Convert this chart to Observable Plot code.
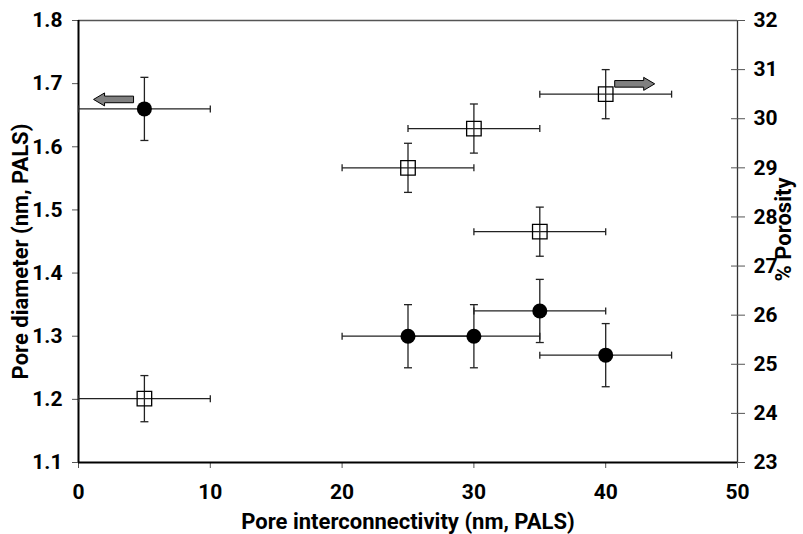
<!DOCTYPE html>
<html>
<head>
<meta charset="utf-8">
<script src="https://cdn.jsdelivr.net/npm/d3@7"></script>
<script src="https://cdn.jsdelivr.net/npm/@observablehq/plot@0.6"></script>
<style>
  html, body { margin: 0; padding: 0; background: #fff; }
  #chart svg text { font-weight: 700 !important; font-family: Roboto, "Liberation Sans", Arial, sans-serif !important; }
</style>
</head>
<body>
<div id="chart"></div>
<script>
// ---- data ----
const xTicks = [0, 10, 20, 30, 40, 50];
const leftTicks = [1.1, 1.2, 1.3, 1.4, 1.5, 1.6, 1.7, 1.8];
const rightTicks = [23, 24, 25, 26, 27, 28, 29, 30, 31, 32];

// filled circles: pore diameter (left axis)
const circleX = [5, 25, 30, 35, 40];
const circleXErr = [5, 5, 5, 5, 5];
const circleDiam = [1.66, 1.30, 1.30, 1.34, 1.27];
const circleDiamErr = [0.05, 0.05, 0.05, 0.05, 0.05];

// open squares: % porosity (right axis)
const squareX = [5, 25, 30, 35, 40];
const squareXErr = [5, 5, 5, 5, 5];
const squarePor = [24.3, 29.0, 29.8, 27.7, 30.5];
const squarePorErr = [0.47, 0.5, 0.5, 0.5, 0.5];

// axis-indicator arrows
const arrowX = [2.66, 42.2];
const arrowVal = [1.675, 30.71];
const arrowAxis = ["left", "right"];

// ---- scales ----
const leftDomain = [1.1, 1.8];
const rightDomain = [23, 32];
const porToY = p => leftDomain[0] + (p - rightDomain[0]) * (leftDomain[1] - leftDomain[0]) / (rightDomain[1] - rightDomain[0]);
const yToPor = y => rightDomain[0] + (y - leftDomain[0]) * (rightDomain[1] - rightDomain[0]) / (leftDomain[1] - leftDomain[0]);
const porScale = (leftDomain[1] - leftDomain[0]) / (rightDomain[1] - rightDomain[0]);

const circles = circleX.map((x, i) => ({x, xe: circleXErr[i], y: circleDiam[i], ye: circleDiamErr[i]}));
const squares = squareX.map((x, i) => ({x, xe: squareXErr[i], y: porToY(squarePor[i]), ye: squarePorErr[i] * porScale}));
const arrows = arrowX.map((x, i) => ({x, y: arrowAxis[i] === "left" ? arrowVal[i] : porToY(arrowVal[i]), dir: arrowAxis[i]}));

// ---- custom symbols ----
const capV = {draw(ctx) { ctx.moveTo(0, -3.5); ctx.lineTo(0, 3.5); }};
const capH = {draw(ctx) { ctx.moveTo(-4, 0); ctx.lineTo(4, 0); }};
const arrowRight = {draw(ctx) {
  ctx.moveTo(-20, -3.3); ctx.lineTo(9, -3.3); ctx.lineTo(9, -6.5); ctx.lineTo(20, 0);
  ctx.lineTo(9, 6.5); ctx.lineTo(9, 3.3); ctx.lineTo(-20, 3.3); ctx.closePath();
}};
const arrowLeft = {draw(ctx) {
  ctx.moveTo(20, -3.3); ctx.lineTo(-9, -3.3); ctx.lineTo(-9, -6.5); ctx.lineTo(-20, 0);
  ctx.lineTo(-9, 6.5); ctx.lineTo(-9, 3.3); ctx.lineTo(20, 3.3); ctx.closePath();
}};

const barColor = "#222";
const barWidth = 1.3;
function errorMarks(rows) {
  return [
    Plot.link(rows, {x1: d => d.x - d.xe, x2: d => d.x + d.xe, y1: "y", y2: "y", stroke: barColor, strokeWidth: barWidth}),
    Plot.link(rows, {x1: "x", x2: "x", y1: d => d.y - d.ye, y2: d => d.y + d.ye, stroke: barColor, strokeWidth: barWidth}),
    Plot.dot(rows, {x: d => d.x - d.xe, y: "y", symbol: capV, fill: "none", stroke: barColor, strokeWidth: barWidth}),
    Plot.dot(rows, {x: d => d.x + d.xe, y: "y", symbol: capV, fill: "none", stroke: barColor, strokeWidth: barWidth}),
    Plot.dot(rows, {x: "x", y: d => d.y - d.ye, symbol: capH, fill: "none", stroke: barColor, strokeWidth: barWidth}),
    Plot.dot(rows, {x: "x", y: d => d.y + d.ye, symbol: capH, fill: "none", stroke: barColor, strokeWidth: barWidth})
  ];
}

const font = "Roboto, 'Liberation Sans', Arial, sans-serif";
const tickFont = 21;
const titleFont = 22;

const chart = Plot.plot({
  width: 803,
  height: 534,
  marginLeft: 78,
  marginRight: 66,
  marginTop: 20,
  marginBottom: 72,
  style: {fontFamily: font, fontWeight: "bold", background: "#fff", color: "#000", overflow: "visible"},
  x: {domain: [0, 50], label: null},
  y: {domain: leftDomain, label: null},
  marks: [
    // frame lines
    Plot.ruleY([leftDomain[1]], {stroke: "#555", strokeWidth: 1.3}),
    Plot.ruleX([50], {stroke: "#333", strokeWidth: 1.3}),
    // axes
    Plot.axisX(xTicks, {anchor: "bottom", tickSize: 6, tickPadding: 16, stroke: "#555", fill: "#000",
      fontSize: tickFont, fontWeight: "bold", label: null, tickFormat: d => String(d)}),
    Plot.axisY(leftTicks, {anchor: "left", tickSize: 6, tickPadding: 10, stroke: "#555", fill: "#000",
      fontSize: tickFont, fontWeight: "bold", label: null, tickFormat: d => d.toFixed(1)}),
    Plot.axisY(rightTicks.map(porToY), {anchor: "right", tickSize: 14, dx: -7, tickPadding: 9, stroke: "#555", fill: "#000",
      fontSize: tickFont, fontWeight: "bold", label: null, tickFormat: d => String(Math.round(yToPor(d)))}),
    Plot.ruleX([0], {stroke: "#000", strokeWidth: 2}),
    Plot.ruleY([leftDomain[0]], {stroke: "#000", strokeWidth: 2.2}),
    // axis titles
    Plot.text(["Pore interconnectivity (nm, PALS)"], {text: d => d, frameAnchor: "bottom", dy: 59,
      textAnchor: "middle", lineAnchor: "middle", fontSize: titleFont, fontWeight: "bold", fill: "#000"}),
    Plot.text(["Pore diameter (nm, PALS)"], {text: d => d, frameAnchor: "left", dx: -58, dy: 10, rotate: -90,
      textAnchor: "middle", lineAnchor: "middle", fontSize: titleFont, fontWeight: "bold", fill: "#000"}),
    Plot.text(["% Porosity"], {text: d => d, frameAnchor: "right", dx: 46, dy: -12, rotate: -90,
      textAnchor: "middle", lineAnchor: "middle", fontSize: titleFont, fontWeight: "bold", fill: "#000"}),
    // error bars
    ...errorMarks(squares),
    ...errorMarks(circles),
    // markers
    Plot.dot(squares, {x: "x", y: "y", symbol: "square", r: 8.2, fill: "none", stroke: "#000", strokeWidth: 1.3}),
    Plot.dot(circles, {x: "x", y: "y", r: 7.5, fill: "#000", stroke: "none"}),
    // arrows
    Plot.dot(arrows.filter(d => d.dir === "left"), {x: "x", y: "y", symbol: arrowLeft, fill: "#808080", stroke: "#000", strokeWidth: 1}),
    Plot.dot(arrows.filter(d => d.dir === "right"), {x: "x", y: "y", symbol: arrowRight, fill: "#808080", stroke: "#000", strokeWidth: 1})
  ]
});

document.getElementById("chart").appendChild(chart);
</script>
</body>
</html>
